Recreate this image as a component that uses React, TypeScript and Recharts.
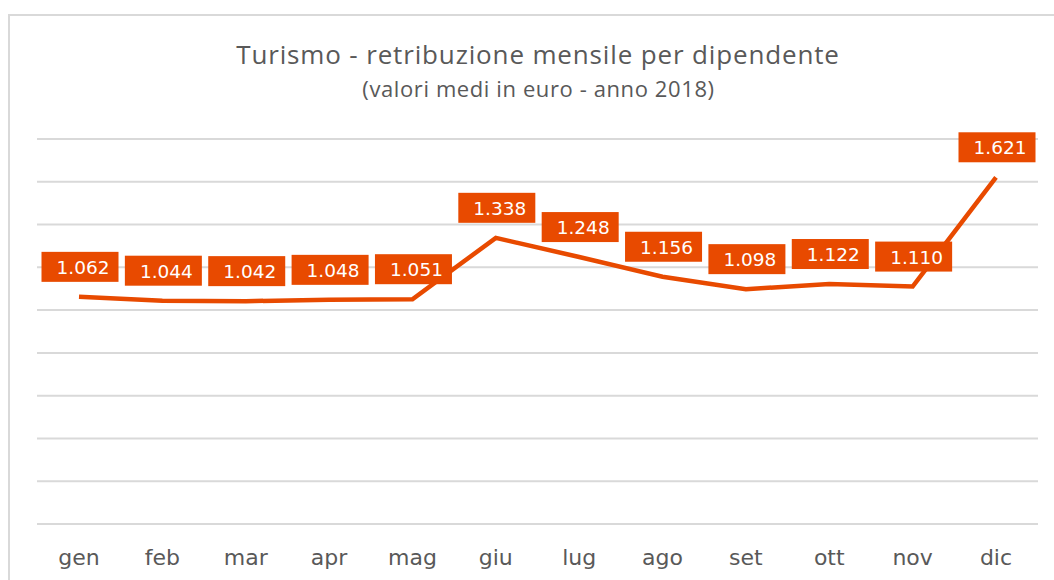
import { LineChart, Line, XAxis, YAxis, CartesianGrid, LabelList } from 'recharts';

const months = ['gen', 'feb', 'mar', 'apr', 'mag', 'giu', 'lug', 'ago', 'set', 'ott', 'nov', 'dic'];
const salary = [1062, 1044, 1042, 1048, 1051, 1338, 1248, 1156, 1098, 1122, 1110, 1621];
const yTicks = [0, 200, 400, 600, 800, 1000, 1200, 1400, 1600, 1800];

const data = months.map((m, i) => ({ month: m, value: salary[i] }));

const ORANGE = '#E84A00';

const fmt = (v: number) => v.toLocaleString('it-IT');

function ValueBox(props: any) {
  const { x, y, value } = props;
  const w = 77;
  const h = 30;
  return (
    <g>
      <rect x={x - w / 2 + 1} y={y - 15 - h} width={w} height={h} fill={ORANGE} />
      <text
        x={x + 4}
        y={y - 15 - h / 2}
        dy="0.38em"
        textAnchor="middle"
        fill="#fff"
        fontSize={18.5}
        fontFamily="DejaVu Sans, Verdana, sans-serif"
      >
        {fmt(value)}
      </text>
    </g>
  );
}

export default function App() {
  return (
    <div
      style={{
        position: 'fixed',
        left: 8,
        top: 14,
        width: 1046,
        height: 566,
        borderLeft: '2px solid #d9d9d9',
        borderTop: '2px solid #d9d9d9',
        background: '#fff',
        boxSizing: 'border-box',
      }}
    >
      <div
        style={{
          position: 'absolute',
          left: 0,
          width: 1054 - 10,
          top: 20,
          textAlign: 'center',
          fontFamily: 'Open Sans, sans-serif',
          color: '#595959',
        }}
      >
        <div style={{ fontSize: 26, lineHeight: '36px', letterSpacing: 0.85, marginLeft: 12 }}>
          Turismo - retribuzione mensile per dipendente
        </div>
        <div style={{ fontSize: 22, lineHeight: '32px', letterSpacing: 0.6, marginLeft: 13 }}>
          (valori medi in euro - anno 2018)
        </div>
      </div>
      <LineChart
        width={1044}
        height={564}
        data={data}
        margin={{ top: 123, right: 16, bottom: 26, left: 27 }}
      >
        <CartesianGrid vertical={false} stroke="#d9d9d9" strokeWidth={2} />
        <YAxis hide domain={[0, 1800]} ticks={yTicks} />
        <XAxis
          dataKey="month"
          axisLine={false}
          tickLine={false}
          tickMargin={19}
          padding={{ left: 42, right: 42 }}
          interval={0}
          tick={{ fill: '#595959', fontSize: 22, fontFamily: 'DejaVu Sans, Verdana, sans-serif' }}
        />
        <Line
          type="linear"
          dataKey="value"
          stroke={ORANGE}
          strokeWidth={4.5}
          dot={false}
          isAnimationActive={false}
        >
          <LabelList dataKey="value" content={<ValueBox />} />
        </Line>
      </LineChart>
    </div>
  );
}
